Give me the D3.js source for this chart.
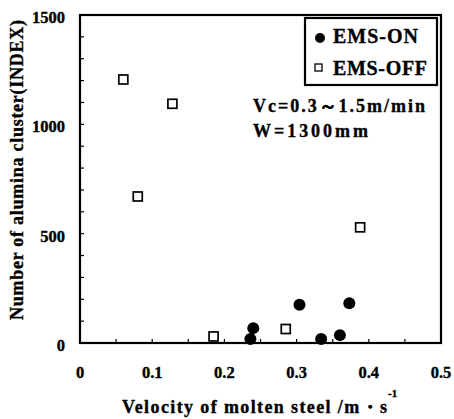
<!DOCTYPE html>
<html><head><meta charset="utf-8">
<script src="https://cdn.jsdelivr.net/npm/d3@7"></script>
<style>body{margin:0;background:#fff}svg text{font-family:"Liberation Serif","Times New Roman",serif;font-weight:700;fill:#000;stroke:#000;stroke-width:0.35px}</style>
</head><body><svg id="c" width="454" height="419"></svg>
<script>
const onX = [0.236, 0.240, 0.304, 0.334, 0.360, 0.373];
const onY = [18, 68, 175, 18, 36, 182];
const offX = [0.060, 0.128, 0.080, 0.388, 0.185, 0.285];
const offY = [1205, 1094, 670, 529, 30, 64];
const xTicks = [0, 0.1, 0.2, 0.3, 0.4, 0.5];
const yTicks = [0, 500, 1000, 1500];
const seriesNames = ["EMS-ON", "EMS-OFF"];

const svg = d3.select("#c");
const L = 80, R = 441, T = 15, B = 343;
const x = d3.scaleLinear().domain([0, 0.5]).range([L, R]);
const y = d3.scaleLinear().domain([0, 1500]).range([B, T]);

// minor inward ticks
const g = svg.append("g");
g.selectAll("line.xt").data(d3.range(0.05, 0.5, 0.05)).join("line").attr("class", "xt")
  .attr("x1", d => x(d)).attr("x2", d => x(d)).attr("y1", B).attr("y2", B - 4)
  .attr("stroke", "#000").attr("stroke-width", 1.2);
g.selectAll("line.yt").data(d3.range(100, 1500, 100)).join("line").attr("class", "yt")
  .attr("y1", d => y(d)).attr("y2", d => y(d)).attr("x1", L).attr("x2", L + 4)
  .attr("stroke", "#000").attr("stroke-width", 1.2);

// frame
svg.append("rect").attr("x", L).attr("y", T).attr("width", R - L).attr("height", B - T)
  .attr("fill", "none").attr("stroke", "#000").attr("stroke-width", 2.2);

// tick labels
svg.selectAll("text.xl").data(xTicks).join("text").attr("class", "xl")
  .attr("x", d => x(d)).attr("y", 378).attr("text-anchor", "middle")
  .attr("font-size", 16.5).text(d => d === 0 ? "0" : d3.format(".1f")(d));
svg.selectAll("text.yl").data(yTicks).join("text").attr("class", "yl")
  .attr("x", 65).attr("y", d => y(d) + 8).attr("text-anchor", "end")
  .attr("font-size", 16.5).text(d => d);

// axis titles
svg.append("text").attr("x", 122).attr("y", 413).attr("font-size", 18)
  .attr("textLength", 265).attr("lengthAdjust", "spacing")
  .text("Velocity of molten steel  /m\u30FBs");
svg.append("text").attr("x", 388).attr("y", 397).attr("font-size", 11).text("-1");
svg.append("text").attr("transform", "translate(23,320) rotate(-90)")
  .attr("font-size", 18).attr("textLength", 300).attr("lengthAdjust", "spacing")
  .text("Number of alumina cluster(INDEX)");

// data
svg.selectAll("circle.on").data(onX).join("circle").attr("class", "on")
  .attr("cx", d => x(d)).attr("cy", (d, i) => y(onY[i])).attr("r", 6).attr("fill", "#000");
svg.selectAll("rect.off").data(offX).join("rect").attr("class", "off")
  .attr("x", d => x(d) - 4.5).attr("y", (d, i) => y(offY[i]) - 4.5)
  .attr("width", 9).attr("height", 9).attr("fill", "#fff").attr("stroke", "#000").attr("stroke-width", 1.7);

// legend
const lg = svg.append("g");
lg.append("rect").attr("x", 305).attr("y", 18).attr("width", 132).attr("height", 67)
  .attr("fill", "#fff").attr("stroke", "#000").attr("stroke-width", 2.2);
lg.append("circle").attr("cx", 320).attr("cy", 38).attr("r", 5).attr("fill", "#000");
lg.append("rect").attr("x", 315).attr("y", 64).attr("width", 7).attr("height", 7)
  .attr("fill", "#fff").attr("stroke", "#000").attr("stroke-width", 1.3);
const legW = [85, 94];
lg.selectAll("text.lt").data(seriesNames).join("text").attr("class", "lt")
  .attr("x", 333).attr("y", (d, i) => 43 + i * 32).attr("font-size", 20)
  .attr("textLength", (d, i) => legW[i]).attr("lengthAdjust", "spacing").text(d => d);

// annotation
svg.append("text").attr("x", 253).attr("y", 112).attr("font-size", 18)
  .attr("textLength", 172).attr("lengthAdjust", "spacing").text("Vc=0.3\uFF5E1.5m/min");
svg.append("text").attr("x", 253).attr("y", 137).attr("font-size", 18)
  .attr("textLength", 115).attr("lengthAdjust", "spacing").text("W=1300mm");
</script></body></html>
